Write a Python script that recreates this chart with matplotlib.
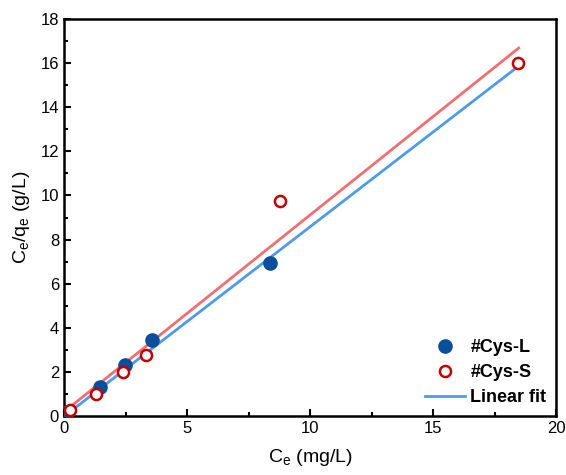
import matplotlib.pyplot as plt
import numpy as np
from matplotlib.ticker import MultipleLocator

plt.rcParams['font.family'] = ['Liberation Sans', 'DejaVu Sans']

# Langmuir linearised data
ce_L = [0.11, 1.46, 2.47, 3.56, 8.38]
cq_L = [0.19, 1.30, 2.31, 3.47, 6.95]
ce_S = [0.24, 1.30, 2.41, 3.35, 8.79, 18.43]
cq_S = [0.27, 1.00, 2.00, 2.76, 9.74, 15.99]

# linear fit parameters (slope, intercept) and x-range of each fit line
fit_L = (0.860, -0.016)
fit_S = (0.893, 0.19)
fit_L_range = [0.24, 18.43]
fit_S_range = [0.18, 18.47]

BLUE_PT = '#0b4e9b'
RED_PT = '#c00000'
BLUE_LN = '#4f9be8'
RED_LN = '#ef6f72'

fig = plt.figure(figsize=(5.66, 4.75), dpi=100)
ax = fig.add_axes([0.113, 0.124, 0.870, 0.836])

xl = np.array(fit_L_range)
xs = np.array(fit_S_range)
ax.plot(xl, fit_L[0] * xl + fit_L[1], color=BLUE_LN, lw=2, zorder=2, label='Linear fit')
ax.plot(xs, fit_S[0] * xs + fit_S[1], color=RED_LN, lw=2, zorder=2)

ax.plot(ce_L, cq_L, 'o', color=BLUE_PT, ms=9.5, zorder=3, label='#Cys-L')
ax.plot(ce_S, cq_S, 'o', mfc='white', mec=RED_PT, mew=1.8, ms=8, zorder=4, label='#Cys-S')

ax.set_xlim(0, 20)
ax.set_ylim(0, 18)
ax.xaxis.set_major_locator(MultipleLocator(5))
ax.xaxis.set_minor_locator(MultipleLocator(2.5))
ax.yaxis.set_major_locator(MultipleLocator(2))
ax.yaxis.set_minor_locator(MultipleLocator(1))
ax.tick_params(which='both', direction='in', top=False, right=False, width=1.5, labelsize=12)
ax.tick_params(which='major', length=5)
ax.tick_params(which='minor', length=3)
for s in ax.spines.values():
    s.set_linewidth(1.8)

ax.set_xlabel(r'C$_\mathregular{e}$ (mg/L)', fontsize=14, labelpad=8)
ax.set_ylabel(r'C$_\mathregular{e}$/q$_\mathregular{e}$ (g/L)', fontsize=14, labelpad=6)

h, l = ax.get_legend_handles_labels()
order = [1, 2, 0]
ax.legend([h[i] for i in order], [l[i] for i in order], loc='lower right', frameon=False,
          prop={'weight': 'bold', 'size': 13}, handlelength=2.2, handletextpad=0.3,
          labelspacing=0.45, borderaxespad=0.15)

fig.savefig('out.png', dpi=100, facecolor='white')
